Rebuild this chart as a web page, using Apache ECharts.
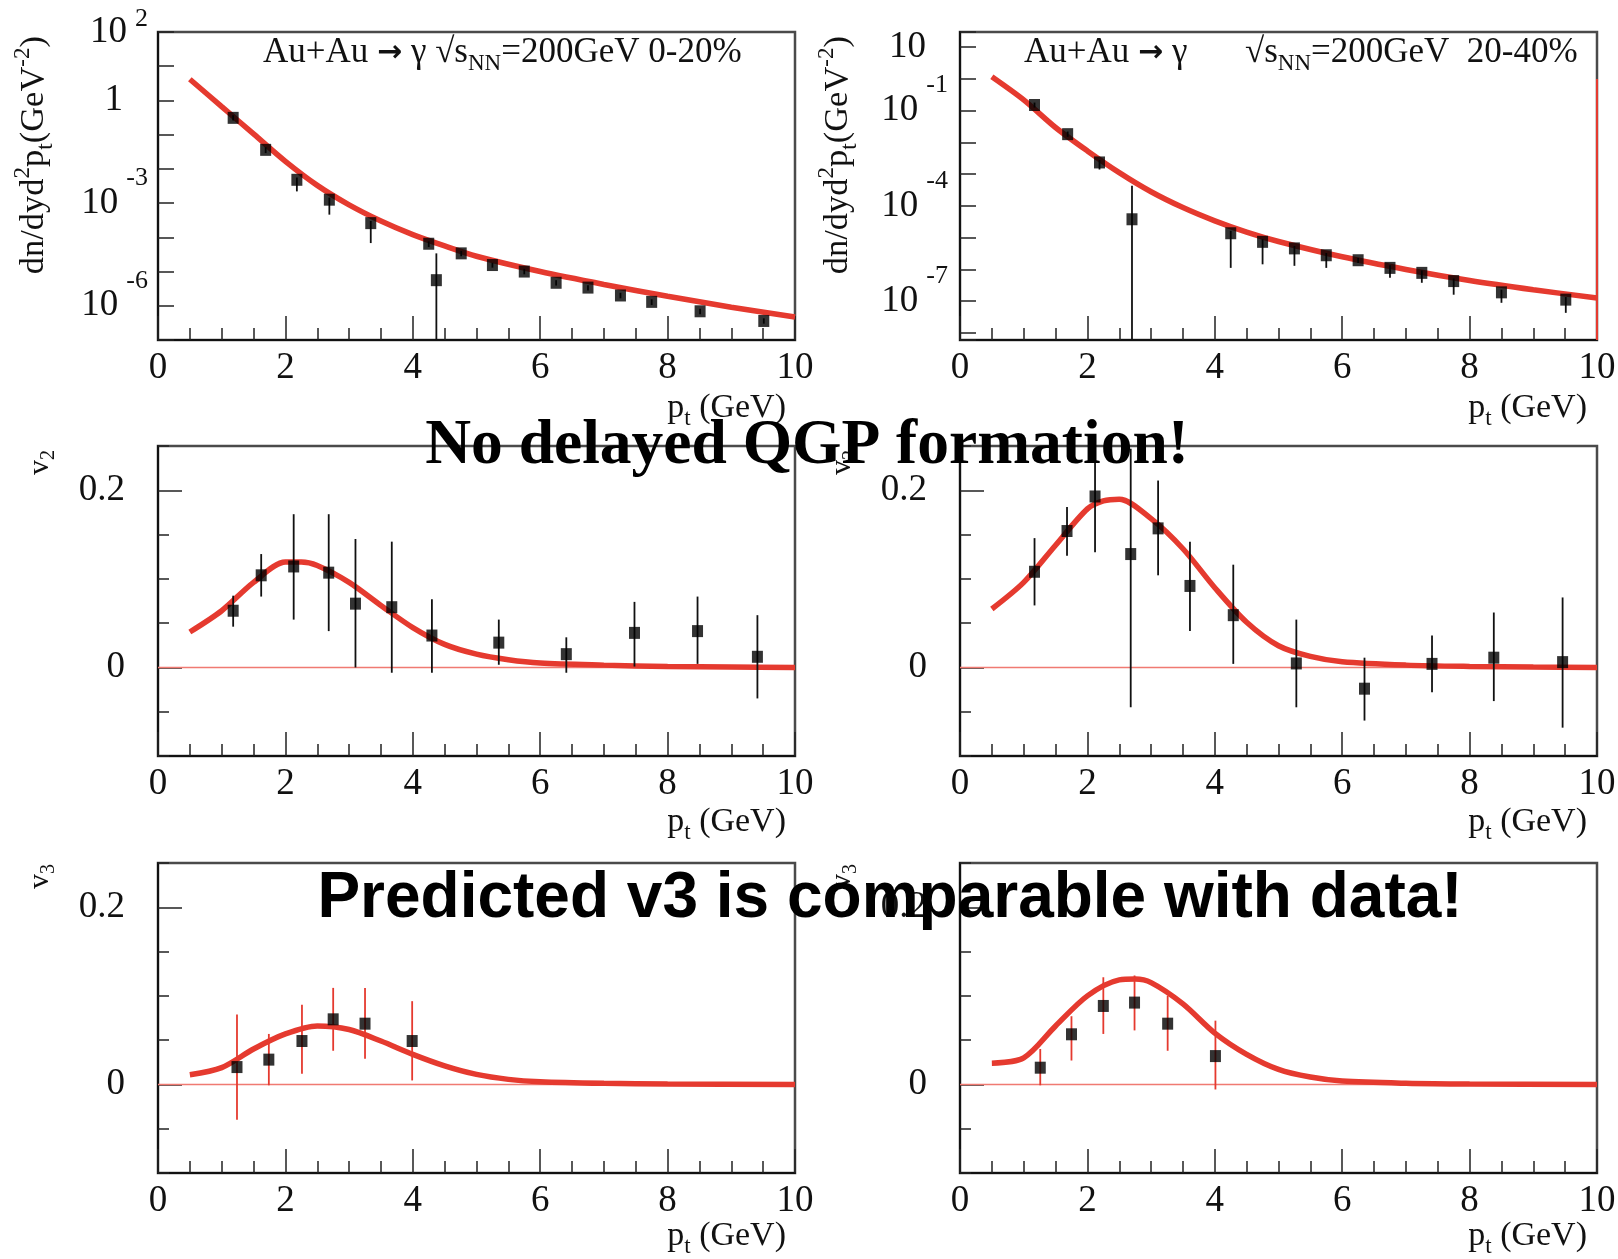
<!DOCTYPE html>
<html><head><meta charset="utf-8">
<script src="https://cdn.jsdelivr.net/npm/echarts@6/dist/echarts.min.js"></script>
<style>html,body{margin:0;padding:0;background:#fff}#c{width:1618px;height:1259px}</style>
</head><body><div id="c"></div>
<script>
// ---------------- DATA ----------------
// Top-left: photon spectrum, Au+Au 200 GeV, 0-20%
const specA_pt = [1.18,1.69,2.18,2.69,3.34,4.25,4.37,4.76,5.25,5.75,6.25,6.75,7.26,7.75,8.51,9.51];
const specA_y  = [0.31,0.036,4.8e-3,1.26e-3,2.6e-4,6.5e-5,5.6e-6,3.4e-5,1.55e-5,1.0e-5,4.7e-6,3.4e-6,2.0e-6,1.3e-6,6.9e-7,3.6e-7];
const specA_lo = [0.26,0.029,2.2e-3,4.6e-4,6.8e-5,5.2e-5,1e-7,2.8e-5,1.3e-5,8.3e-6,3.9e-6,2.8e-6,1.65e-6,1.05e-6,5.7e-7,3.0e-7];
const specA_hi = [0.37,0.043,5.6e-3,1.45e-3,3.0e-4,7.6e-5,3.4e-5,4.0e-5,1.8e-5,1.2e-5,5.6e-6,4.0e-6,2.4e-6,1.55e-6,8.2e-7,4.3e-7];
const specA_curvePt = [0.5,1,1.5,2,2.5,3,3.5,4,4.5,5,6,7,8,9,10];
const specA_curveY  = [4.17,0.66,0.105,0.0166,3.3e-3,8.9e-4,3.0e-4,1.2e-4,5.6e-5,2.8e-5,1.0e-5,4.2e-6,1.9e-6,9.1e-7,4.7e-7];
const specA_labelExp = [2,0,-3,-6];

// Top-right: photon spectrum, 20-40%
const specB_pt = [1.17,1.69,2.19,2.70,4.25,4.75,5.25,5.75,6.25,6.75,7.25,7.75,8.50,9.51];
const specB_y  = [0.151,0.0182,2.34e-3,3.8e-5,1.38e-5,7.4e-6,4.6e-6,2.8e-6,1.95e-6,1.12e-6,7.8e-7,4.3e-7,1.9e-7,1.12e-7];
const specB_lo = [0.125,0.0150,1.4e-3,6e-9,1.12e-6,1.45e-6,1.3e-6,1.12e-6,1.6e-6,5.5e-7,3.8e-7,1.6e-7,8.9e-8,4.3e-8];
const specB_hi = [0.18,0.022,2.8e-3,4.3e-4,1.65e-5,8.9e-6,5.5e-6,3.3e-6,2.3e-6,1.35e-6,9.3e-7,5.2e-7,2.3e-7,1.35e-7];
const specB_curvePt = [0.5,1,1.5,2,2.5,3,3.5,4,4.5,5,6,7,8,9,10];
const specB_curveY  = [1.17,0.219,0.0295,5.4e-3,1.12e-3,2.8e-4,8.9e-5,3.4e-5,1.5e-5,7.6e-6,2.5e-6,1.0e-6,4.5e-7,2.3e-7,1.26e-7];
const specB_labelExp = [1,-1,-4,-7];
const specB_edgePt = [10,10];
const specB_edgeY  = [1,6e-9];

// Middle-left: v2, 0-20%
const v2A_pt = [1.18,1.62,2.13,2.68,3.10,3.67,4.30,5.35,6.41,7.48,8.47,9.41];
const v2A_y  = [0.064,0.104,0.114,0.107,0.072,0.068,0.036,0.028,0.015,0.039,0.041,0.012];
const v2A_lo = [0.046,0.080,0.054,0.041,0.0,-0.006,-0.006,0.003,-0.006,0.001,0.004,-0.035];
const v2A_hi = [0.081,0.128,0.173,0.173,0.145,0.142,0.077,0.054,0.034,0.074,0.080,0.059];
const v2A_curvePt = [0.5,1,1.5,2,2.25,2.5,3,3.5,4,4.5,5,5.5,6,7,8,9,10];
const v2A_curve   = [0.040,0.064,0.096,0.119,0.119,0.115,0.096,0.070,0.045,0.026,0.015,0.0087,0.005,0.0026,0.001,0.0004,0];

// Middle-right: v2, 20-40%
const v2B_pt = [1.17,1.68,2.12,2.68,3.11,3.61,4.29,5.28,6.35,7.41,8.38,9.46];
const v2B_y  = [0.108,0.154,0.193,0.128,0.157,0.092,0.059,0.0045,-0.024,0.004,0.011,0.006];
const v2B_lo = [0.070,0.126,0.130,-0.045,0.104,0.041,0.004,-0.045,-0.060,-0.028,-0.038,-0.068];
const v2B_hi = [0.146,0.181,0.237,0.247,0.211,0.142,0.116,0.054,0.011,0.036,0.062,0.079];
const v2B_curvePt = [0.5,1,1.5,2,2.25,2.5,3,3.5,4,4.5,5,5.5,6,7,8,9,10];
const v2B_curve   = [0.066,0.096,0.138,0.179,0.188,0.190,0.168,0.134,0.090,0.051,0.0245,0.0124,0.0064,0.0026,0.0011,0.0004,0];

// Bottom-left: v3, 0-20%
const v3A_pt = [1.24,1.74,2.26,2.75,3.25,3.99];
const v3A_y  = [0.0196,0.028,0.049,0.0735,0.0686,0.049];
const v3A_lo = [-0.040,-0.001,0.012,0.038,0.029,0.0045];
const v3A_hi = [0.079,0.057,0.090,0.109,0.109,0.094];
const v3A_curvePt = [0.5,1,1.5,2,2.5,3,3.5,4,4.5,5,5.5,6,7,8,10];
const v3A_curve   = [0.011,0.019,0.040,0.057,0.066,0.062,0.049,0.034,0.021,0.0113,0.0057,0.003,0.0012,0.0004,0];

// Bottom-right: v3, 20-40%
const v3B_pt = [1.26,1.75,2.25,2.74,3.26,4.01];
const v3B_y  = [0.0189,0.0566,0.0886,0.0924,0.0686,0.032];
const v3B_lo = [-0.001,0.027,0.057,0.061,0.038,-0.0057];
const v3B_hi = [0.040,0.077,0.121,0.123,0.100,0.072];
const v3B_curvePt = [0.5,1,1.5,2,2.5,2.75,3,3.5,4,4.5,5,5.5,6,7,8,10];
const v3B_curve   = [0.024,0.030,0.066,0.100,0.118,0.119,0.115,0.091,0.058,0.034,0.017,0.0083,0.0038,0.0013,0.0004,0];

const zeroLinePt = [0,10];
const zeroLineV  = [0,0];
const vLabeled = [0, 0.2];
const ptMin = 0, ptMax = 10, ptStep = 2;
const vMin = -0.1, vMax = 0.25, vStep = 0.05;

// ---------------- STYLE / LAYOUT ----------------
const RED = '#e53a2f';
const ZRED = '#f07a72';
const INK = '#111';
const SERIF = 'Liberation Serif';
const TICKFS = 37;
const boxes = [[158,32,637,308],[960,32,637,308],[158,446,637,310],[960,446,637,310],[158,863,637,310],[960,863,637,310]];

const panels = [
  {kind:'log', pt:specA_pt, y:specA_y, lo:specA_lo, hi:specA_hi, cpt:specA_curvePt, cy:specA_curveY, min:1e-7, max:100, exps:specA_labelExp, margin:10, err:INK},
  {kind:'log', pt:specB_pt, y:specB_y, lo:specB_lo, hi:specB_hi, cpt:specB_curvePt, cy:specB_curveY, min:6e-9, max:30, exps:specB_labelExp, margin:12, err:INK},
  {kind:'lin', pt:v2A_pt, y:v2A_y, lo:v2A_lo, hi:v2A_hi, cpt:v2A_curvePt, cy:v2A_curve, err:INK},
  {kind:'lin', pt:v2B_pt, y:v2B_y, lo:v2B_lo, hi:v2B_hi, cpt:v2B_curvePt, cy:v2B_curve, err:INK},
  {kind:'lin', pt:v3A_pt, y:v3A_y, lo:v3A_lo, hi:v3A_hi, cpt:v3A_curvePt, cy:v3A_curve, err:RED},
  {kind:'lin', pt:v3B_pt, y:v3B_y, lo:v3B_lo, hi:v3B_hi, cpt:v3B_curvePt, cy:v3B_curve, err:RED}
];

function pairs(a,b){ return a.map((x,i)=>[x,b[i]]); }
function triples(a,b,c){ return a.map((x,i)=>[x,b[i],c[i]]); }
function font(fs, extra){ return Object.assign({fontFamily:SERIF, fontSize:fs, color:INK, fill:INK}, extra||{}); }

const logRich = {
  b: font(TICKFS, {lineHeight:76}),
  s: font(26, {verticalAlign:'top', padding:[0,0,0,8]}),
  sp: font(26, {verticalAlign:'top', padding:[12,0,0,8]}),
  p0: {width:25},
  p1: {width:22}
};
function logFormatter(exps){
  return function(v){
    const l = Math.log10(v); const e = Math.round(l);
    if (Math.abs(l-e) > 1e-3 || exps.indexOf(e) < 0) return '';
    if (e === 0) return '{b|1}{p0| }';
    if (e === 1) return '{b|10}{p1| }';
    if (e > 1) return '{b|10}{sp|' + e + '}';
    return '{b|10}{s|' + e + '}';
  };
}

const grid = [], xAxis = [], yAxis = [], series = [];
const tickLine = {color:'#222', width:1.5};
panels.forEach((p,i)=>{
  const [l,t,w,h] = boxes[i];
  grid.push({left:l, top:t, width:w, height:h, show:true, borderColor:'#4a4a4a', borderWidth:2.5,
    backgroundColor:'transparent', containLabel:false, outerBoundsMode:'none'});
  xAxis.push({type:'value', gridIndex:i, min:ptMin, max:ptMax, interval:ptStep,
    axisLine:{show:true, onZero:false, lineStyle:{color:INK, width:2}},
    axisTick:{show:true, inside:true, length:24, lineStyle:tickLine},
    minorTick:{show:true, splitNumber:4, length:12, lineStyle:tickLine},
    splitLine:{show:false}, minorSplitLine:{show:false},
    axisLabel:{margin:10, fontFamily:SERIF, fontSize:TICKFS, color:INK}});
  if (p.kind === 'log') {
    yAxis.push({type:'log', logBase:10, gridIndex:i, min:p.min, max:p.max, splitNumber:10,
      axisLine:{show:true, onZero:false, lineStyle:{color:INK, width:2}},
      axisTick:{show:true, inside:true, length:16, lineStyle:tickLine},
      splitLine:{show:false}, minorTick:{show:false},
      axisLabel:{margin:p.margin, formatter:logFormatter(p.exps), rich:logRich, fontFamily:SERIF, fontSize:TICKFS, color:INK}});
  } else {
    yAxis.push({type:'value', gridIndex:i, min:vMin, max:vMax, interval:vStep,
      axisLine:{show:true, onZero:false, lineStyle:{color:INK, width:2}},
      axisTick:{show:true, inside:true, length:11, lineStyle:tickLine},
      splitLine:{show:false},
      axisLabel:{margin:33, fontFamily:SERIF, fontSize:TICKFS, color:INK,
        formatter:function(v){ for (const c of vLabeled) if (Math.abs(v-c) < 1e-9) return String(c); return ''; }}});
  }
});
// long ticks at labelled values on linear panels
panels.forEach((p,i)=>{
  if (p.kind !== 'lin') return;
  yAxis.push({type:'value', gridIndex:i, min:vMin, max:vMax, position:'left',
    axisLine:{show:false, onZero:false}, splitLine:{show:false}, axisLabel:{show:false},
    axisTick:{show:true, inside:true, length:24, lineStyle:tickLine, customValues:vLabeled}});
});

panels.forEach((p,i)=>{
  if (p.kind === 'lin') {
    series.push({type:'line', xAxisIndex:i, yAxisIndex:i, data:pairs(zeroLinePt, zeroLineV),
      symbol:'none', lineStyle:{color:ZRED, width:1.5}, z:2, silent:true});
  }
  if (i === 1) {
    series.push({type:'line', xAxisIndex:i, yAxisIndex:i, data:pairs(specB_edgePt, specB_edgeY),
      symbol:'none', lineStyle:{color:RED, width:2}, z:2, silent:true});
  }
  series.push({type:'line', xAxisIndex:i, yAxisIndex:i, data:pairs(p.cpt, p.cy), symbol:'none', showSymbol:false,
    smooth:0.3, lineStyle:{color:RED, width:5.5}, z:3, silent:true});
  const ec = p.err;
  series.push({type:'custom', xAxisIndex:i, yAxisIndex:i, data:triples(p.pt, p.lo, p.hi), z:4, silent:true,
    encode:{x:0, y:[1,2]},
    renderItem:function(params, api){
      const a = api.coord([api.value(0), api.value(1)]);
      const b = api.coord([api.value(0), api.value(2)]);
      return {type:'line', shape:{x1:a[0], y1:a[1], x2:b[0], y2:b[1]}, style:{stroke:ec, lineWidth:1.8}};
    }});
  series.push({type:'scatter', xAxisIndex:i, yAxisIndex:i, data:pairs(p.pt, p.y), symbol:'rect',
    symbolSize:[11,12], itemStyle:{color:'#000'}, z:5, silent:true});
});

// ---------------- TEXT ----------------
const richT = {t:font(35,{lineHeight:44}), ar:{fontFamily:'DejaVu Sans', fontSize:30, fill:INK, color:INK, fontWeight:'bold'},
  sub:font(23,{verticalAlign:'bottom'}), sup:font(23,{verticalAlign:'top'})};
const richY = {t:font(34.5,{lineHeight:46}), sub:font(23,{verticalAlign:'bottom'}), sup:font(23,{verticalAlign:'top'})};
const richX = {t:font(34,{lineHeight:44}), sub:font(23,{verticalAlign:'bottom'})};
const richV = {t:font(30,{lineHeight:38}), sub:font(20,{verticalAlign:'bottom'})};
function label(x, y, text, rich, align, rot){
  const el = {type:'text', x:x, y:y, z:50, silent:true,
    style:{text:text, rich:rich, align:align, textAlign:align, verticalAlign:'middle', textVerticalAlign:'middle', fill:INK}};
  if (rot) el.rotation = rot;
  return el;
}
const yTitle = '{t|dn/dyd}{sup|2}{t|p}{sub|t}{t|(GeV}{sup|-2}{t|)}';
const xTitle = '{t|p}{sub|t}{t| (GeV)}';
const graphic = [
  label(263, 53, '{t|Au+Au }{ar|→}{t| γ √s}{sub|NN}{t|=200GeV 0-20%}', richT, 'left'),
  label(1024, 53, '{t|Au+Au }{ar|→}{t| γ}', richT, 'left'),
  label(1245, 53, '{t|√s}{sub|NN}{t|=200GeV  20-40%}', richT, 'left'),
  label(34, 36, yTitle, richY, 'right', Math.PI/2),
  label(838, 36, yTitle, richY, 'right', Math.PI/2),
  label(40, 450, '{t|v}{sub|2}', richV, 'right', Math.PI/2),
  label(842, 450, '{t|v}{sub|2}', richV, 'right', Math.PI/2),
  label(40, 864, '{t|v}{sub|3}', richV, 'right', Math.PI/2),
  label(842, 864, '{t|v}{sub|3}', richV, 'right', Math.PI/2),
  label(786, 408, xTitle, richX, 'right'),
  label(1587, 408, xTitle, richX, 'right'),
  label(786, 822, xTitle, richX, 'right'),
  label(1587, 822, xTitle, richX, 'right'),
  label(786, 1236, xTitle, richX, 'right'),
  label(1587, 1236, xTitle, richX, 'right'),
  {type:'text', x:807, y:447, z:100, silent:true, style:{text:'No delayed QGP formation!', fontFamily:SERIF, fontSize:63.5, fontWeight:'bold',
    fill:'#000', align:'center', textAlign:'center', verticalAlign:'middle', textVerticalAlign:'middle'}},
  {type:'text', x:890, y:899, z:100, silent:true, style:{text:'Predicted v3 is comparable with data!', fontFamily:'Liberation Sans', fontSize:64, fontWeight:'bold',
    fill:'#000', align:'center', textAlign:'center', verticalAlign:'middle', textVerticalAlign:'middle'}}
];

const chart = echarts.init(document.getElementById('c'), null, {renderer:'canvas'});
chart.setOption({animation:false, backgroundColor:'#fff', grid:grid, xAxis:xAxis, yAxis:yAxis, series:series, graphic:graphic});
</script></body></html>
